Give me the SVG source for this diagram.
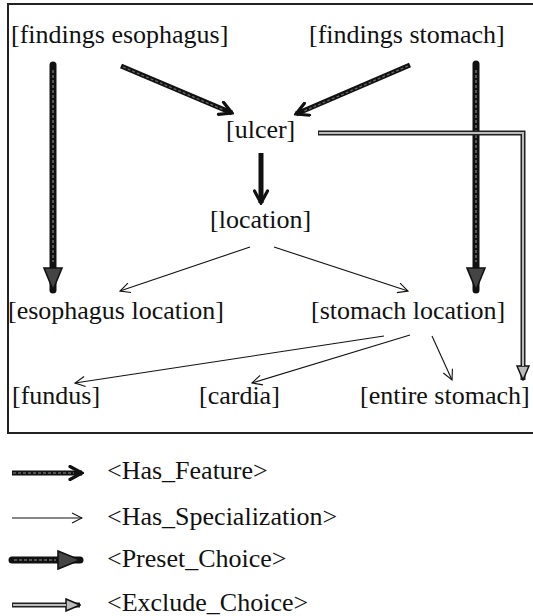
<svg xmlns="http://www.w3.org/2000/svg" width="533" height="616" viewBox="0 0 533 616">
  <style>
    .lbl { font-family: "Liberation Serif", "Times New Roman", serif; font-size: 26px; fill: #111; }
    .frame { fill: none; stroke: #222; stroke-width: 2; }
    .hf-o { stroke: #111; stroke-width: 5; fill: none; }
    .hf-i { stroke: #666; stroke-width: 1.3; fill: none; stroke-dasharray: 3 2; }
    .hs { stroke: #111; stroke-width: 1.1; fill: none; }
    .pc-o { stroke: #111; stroke-width: 7; fill: none; stroke-linecap: round; }
    .pc-i { stroke: #555; stroke-width: 2; fill: none; stroke-dasharray: 3 2; }
    .ec-o { stroke: #222; stroke-width: 5; fill: none; stroke-linejoin: miter; }
    .ec-i { stroke: #bbb; stroke-width: 2; fill: none; }
  </style>
  <defs>
    <marker id="hfHead" viewBox="0 0 16 16" markerWidth="16" markerHeight="16" refX="14" refY="8" orient="auto" markerUnits="userSpaceOnUse">
      <path d="M2,1.5 L14,8 L2,14.5" fill="none" stroke="#111" stroke-width="3.2" stroke-linecap="round" stroke-linejoin="miter"/>
    </marker>
    <marker id="hsHead" viewBox="0 0 12 12" markerWidth="12" markerHeight="12" refX="11" refY="6" orient="auto" markerUnits="userSpaceOnUse">
      <path d="M1,1 L11,6 L1,11" fill="none" stroke="#111" stroke-width="1.1"/>
    </marker>
    <marker id="pcHead" viewBox="0 0 20 24" markerWidth="20" markerHeight="24" refX="23" refY="10" orient="auto" markerUnits="userSpaceOnUse" overflow="visible">
      <path d="M1,1 L23,10 L1,19 Z" fill="#444" stroke="#111" stroke-width="1.6"/>
    </marker>
    <marker id="ecHead" viewBox="0 0 16 14" markerWidth="16" markerHeight="14" refX="15" refY="7" orient="auto" markerUnits="userSpaceOnUse">
      <path d="M1,1 L15,7 L1,13 Z" fill="#bbb" stroke="#111" stroke-width="1.5"/>
    </marker>
  </defs>

  <!-- outer frame (open on the right) -->
  <path class="frame" d="M533,4 L8,4 L8,433 L533,433"/>

  <!-- connectors -->
  <g id="connectors">
    <!-- Has_Feature -->
    <g id="e-fe-ulcer">
      <line class="hf-o" x1="121" y1="66" x2="232" y2="113" marker-end="url(#hfHead)"/>
      <line class="hf-i" x1="123" y1="67" x2="224" y2="110"/>
    </g>
    <g id="e-fs-ulcer">
      <line class="hf-o" x1="410" y1="65" x2="296" y2="114" marker-end="url(#hfHead)"/>
      <line class="hf-i" x1="408" y1="66" x2="304" y2="111"/>
    </g>
    <g id="e-ulcer-location">
      <line class="hf-o" x1="261" y1="153" x2="261" y2="203" marker-end="url(#hfHead)"/>
    </g>

    <!-- Preset_Choice -->
    <g id="e-fe-esoloc">
      <line class="pc-o" x1="53" y1="65" x2="53" y2="290" marker-end="url(#pcHead)"/>
      <line class="pc-i" x1="53" y1="70" x2="53" y2="262"/>
    </g>
    <g id="e-fs-stloc">
      <line class="pc-o" x1="476" y1="64" x2="476" y2="290" marker-end="url(#pcHead)"/>
      <line class="pc-i" x1="476" y1="70" x2="476" y2="262"/>
    </g>

    <!-- Has_Specialization -->
    <line class="hs" x1="250" y1="247" x2="120" y2="291" marker-end="url(#hsHead)"/>
    <line class="hs" x1="274" y1="247" x2="408" y2="291" marker-end="url(#hsHead)"/>
    <line class="hs" x1="384" y1="336" x2="75" y2="383" marker-end="url(#hsHead)"/>
    <line class="hs" x1="410" y1="335" x2="252" y2="383" marker-end="url(#hsHead)"/>
    <line class="hs" x1="432" y1="336" x2="452" y2="380" marker-end="url(#hsHead)"/>

    <!-- Exclude_Choice -->
    <g id="e-ulcer-entire">
      <polyline class="ec-o" points="318,133 523,133 523,380" marker-end="url(#ecHead)"/>
      <polyline class="ec-i" points="319,133 523,133 523,366"/>
    </g>
  </g>

  <!-- nodes -->
  <g id="n-findings-esophagus"><text class="lbl" x="11" y="43">[findings esophagus]</text></g>
  <g id="n-findings-stomach"><text class="lbl" x="309" y="43">[findings stomach]</text></g>
  <g id="n-ulcer"><text class="lbl" x="226" y="138">[ulcer]</text></g>
  <g id="n-location"><text class="lbl" x="210" y="228">[location]</text></g>
  <g id="n-esophagus-location"><text class="lbl" x="8" y="319">[esophagus location]</text></g>
  <g id="n-stomach-location"><text class="lbl" x="311" y="319">[stomach location]</text></g>
  <g id="n-fundus"><text class="lbl" x="12" y="404">[fundus]</text></g>
  <g id="n-cardia"><text class="lbl" x="199" y="404">[cardia]</text></g>
  <g id="n-entire-stomach"><text class="lbl" x="360" y="404">[entire stomach]</text></g>

  <!-- legend -->
  <g id="legend">
    <line class="hf-o" x1="12" y1="473" x2="82" y2="473" marker-end="url(#hfHead)"/>
    <line class="hf-i" x1="13" y1="473" x2="74" y2="473"/>
    <text class="lbl" x="107" y="479">&lt;Has_Feature&gt;</text>

    <line class="hs" x1="12" y1="518" x2="82" y2="518" marker-end="url(#hsHead)"/>
    <text class="lbl" x="107" y="525">&lt;Has_Specialization&gt;</text>

    <line class="pc-o" x1="12" y1="560" x2="80" y2="560" marker-end="url(#pcHead)"/>
    <line class="pc-i" x1="14" y1="560" x2="56" y2="560"/>
    <text class="lbl" x="107" y="567">&lt;Preset_Choice&gt;</text>

    <line class="ec-o" x1="12" y1="605" x2="80" y2="605" marker-end="url(#ecHead)"/>
    <line class="ec-i" x1="13" y1="605" x2="66" y2="605"/>
    <text class="lbl" x="107" y="611">&lt;Exclude_Choice&gt;</text>
  </g>
</svg>
